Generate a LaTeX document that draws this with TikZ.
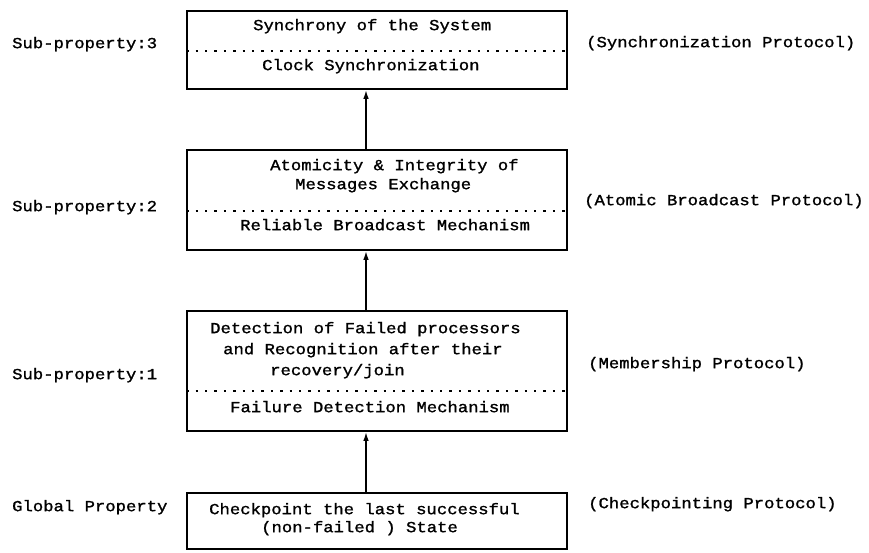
\documentclass[tikz,border=0pt]{standalone}
\usepackage{fontspec}
\usetikzlibrary{arrows.meta}
\newfontfamily\typew{Liberation Mono}[FakeStretch=1.12,FakeBold=1.3]

\begin{document}
\begin{tikzpicture}[x=1pt,y=-1pt,
  layerbox/.style={draw, line width=1.6pt, minimum width=380pt, inner sep=0pt},
  txt/.style={anchor=mid west, inner sep=0pt, font=\typew\fontsize{15.4}{19}\selectfont},
  divider/.style={line width=1.4pt, dash pattern=on 2.4pt off 7pt},
  uparrow/.style={line width=1.6pt, -{Latex[length=9pt,width=5.5pt]}}
]
\useasboundingbox (0,0) rectangle (869,552);

% layer boxes
\node[layerbox, minimum height=78pt]  (b1) at (377,50)  {};
\node[layerbox, minimum height=100pt] (b2) at (377,200) {};
\node[layerbox, minimum height=120pt] (b3) at (377,371) {};
\node[layerbox, minimum height=56pt]  (b4) at (377,521) {};

% dotted separators between property and mechanism
\coordinate (d1) at (0,51);
\coordinate (d2) at (0,211);
\coordinate (d3) at (0,391);
\draw[divider] (b1.west |- d1) -- (b1.east |- d1);
\draw[divider] (b2.west |- d2) -- (b2.east |- d2);
\draw[divider] (b3.west |- d3) -- (b3.east |- d3);

% box contents
\node[txt] (t1a) at (253,28)  {Synchrony of the System};
\node[txt] (t1b) at (262,68)  {Clock Synchronization};
\node[txt] (t2a) at (270,168) {Atomicity \& Integrity of};
\node[txt] (t2b) at (295,187) {Messages Exchange};
\node[txt] (t2c) at (240,228) {Reliable Broadcast Mechanism};
\node[txt] (t3a) at (210,331) {Detection of Failed processors};
\node[txt] (t3b) at (223,352) {and Recognition after their};
\node[txt] (t3c) at (270,373) {recovery/join};
\node[txt] (t3d) at (230,410) {Failure Detection Mechanism};
\node[txt] (t4a) at (209,512) {Checkpoint the last successful};
\node[txt] (t4b) at (261,530) {(non-failed ) State};

% property labels
\node[txt] (l1) at (12,46)  {Sub-property:3};
\node[txt] (l2) at (12,209) {Sub-property:2};
\node[txt] (l3) at (12,377) {Sub-property:1};
\node[txt] (l4) at (12,509) {Global Property};

% protocol labels
\node[txt] (r1) at (586,45)  {(Synchronization Protocol)};
\node[txt] (r2) at (584,203) {(Atomic Broadcast Protocol)};
\node[txt] (r3) at (588,366) {(Membership Protocol)};
\node[txt] (r4) at (588,506) {(Checkpointing Protocol)};

% dependency arrows
\coordinate (ax) at (366,0);
\draw[uparrow] (b2.north -| ax) -- (b1.south -| ax);
\draw[uparrow] (b3.north -| ax) -- (b2.south -| ax);
\draw[uparrow] (b4.north -| ax) -- (b3.south -| ax);
\end{tikzpicture}
\end{document}
